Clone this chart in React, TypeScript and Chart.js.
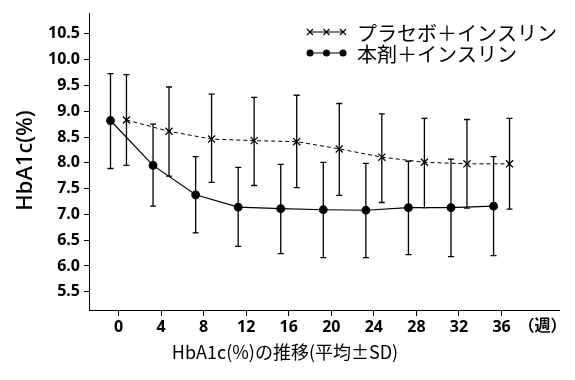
import React, { useEffect, useRef } from "react";
import { Chart, registerables } from "chart.js";

Chart.register(...registerables);

const weeks = [0, 4, 8, 12, 16, 20, 24, 28, 32, 36];
const yTickValues = [5.5, 6.0, 6.5, 7.0, 7.5, 8.0, 8.5, 9.0, 9.5, 10.0, 10.5];

const drugLabel = "本剤＋インスリン";
const drugMean = [8.82, 7.95, 7.38, 7.14, 7.11, 7.09, 7.08, 7.13, 7.13, 7.16];
const drugUpper = [9.73, 8.75, 8.12, 7.91, 7.97, 8.01, 7.99, 8.03, 8.07, 8.12];
const drugLower = [7.89, 7.16, 6.64, 6.38, 6.24, 6.16, 6.16, 6.22, 6.18, 6.2];

const placeboLabel = "プラセボ＋インスリン";
const placeboMean = [8.83, 8.61, 8.46, 8.43, 8.41, 8.27, 8.11, 8.01, 7.98, 7.98];
const placeboUpper = [9.71, 9.47, 9.33, 9.27, 9.31, 9.15, 8.95, 8.86, 8.84, 8.86];
const placeboLower = [7.95, 7.74, 7.62, 7.56, 7.52, 7.37, 7.23, 7.13, 7.12, 7.1];

const drugOffset = -0.75;
const placeboOffset = 0.75;

const yTitle = "HbA1c(%)";
const xTitle = "HbA1c(%)の推移(平均±SD)";
const xUnit = "（週）";

const FONT_JP = '"Noto Sans CJK JP", "Noto Sans", sans-serif';
const FONT_NUM = '"Noto Sans", "Liberation Sans", sans-serif';

const errorBarPlugin = {
  id: "errorBars",
  beforeDatasetsDraw(chart: any) {
    const ctx = chart.ctx;
    const xs = chart.scales.x;
    const ys = chart.scales.y;
    const sets = [
      { off: drugOffset, up: drugUpper, lo: drugLower },
      { off: placeboOffset, up: placeboUpper, lo: placeboLower },
    ];
    ctx.save();
    ctx.strokeStyle = "#000";
    ctx.lineWidth = 1.3;
    const cap = 3;
    sets.forEach((s) => {
      weeks.forEach((w, i) => {
        const x = xs.getPixelForValue(w + s.off);
        const yT = ys.getPixelForValue(s.up[i]);
        const yB = ys.getPixelForValue(s.lo[i]);
        ctx.beginPath();
        ctx.moveTo(x, yT);
        ctx.lineTo(x, yB);
        ctx.moveTo(x - cap, yT);
        ctx.lineTo(x + cap, yT);
        ctx.moveTo(x - cap, yB);
        ctx.lineTo(x + cap, yB);
        ctx.stroke();
      });
    });
    ctx.restore();
  },
};

const annotationsPlugin = {
  id: "annotations",
  afterDraw(chart: any) {
    const ctx = chart.ctx;
    const xs = chart.scales.x;
    ctx.save();
    ctx.fillStyle = "#000";
    ctx.strokeStyle = "#000";

    // Legend
    const rows = [
      { y: 32, label: placeboLabel, style: "crossRot" },
      { y: 53, label: drugLabel, style: "circle" },
    ];
    rows.forEach((r) => {
      ctx.lineWidth = 1.2;
      ctx.setLineDash([]);
      ctx.beginPath();
      ctx.moveTo(310, r.y);
      ctx.lineTo(343, r.y);
      ctx.stroke();
      [310, 326.5, 343].forEach((mx) => {
        if (r.style === "circle") {
          ctx.beginPath();
          ctx.arc(mx, r.y, 3.5, 0, Math.PI * 2);
          ctx.fill();
        } else {
          ctx.beginPath();
          ctx.moveTo(mx - 3, r.y - 3);
          ctx.lineTo(mx + 3, r.y + 3);
          ctx.moveTo(mx - 3, r.y + 3);
          ctx.lineTo(mx + 3, r.y - 3);
          ctx.stroke();
        }
      });
      ctx.font = `20px ${FONT_JP}`;
      ctx.textAlign = "left";
      ctx.textBaseline = "middle";
      ctx.fillText(r.label, 357, r.y + 1);
    });

    // Y title
    ctx.save();
    ctx.translate(26, 160.5);
    ctx.rotate(-Math.PI / 2);
    ctx.font = `500 22px ${FONT_NUM}`;
    ctx.textAlign = "center";
    ctx.textBaseline = "middle";
    ctx.fillText(yTitle, 0, 0);
    ctx.restore();

    // X title
    ctx.font = `18px ${FONT_JP}`;
    ctx.textAlign = "center";
    ctx.textBaseline = "middle";
    ctx.fillText(xTitle, 285, 352);

    // Unit
    ctx.font = `bold 16px ${FONT_JP}`;
    ctx.textAlign = "center";
    ctx.fillText(xUnit, xs.getPixelForValue(36) + 41, 325);

    ctx.restore();
  },
};

export default function App() {
  const canvasRef = useRef<HTMLCanvasElement | null>(null);

  useEffect(() => {
    if (!canvasRef.current) return;
    const chart = new Chart(canvasRef.current, {
      type: "line",
      data: {
        datasets: [
          {
            label: placeboLabel,
            data: weeks.map((w, i) => ({ x: w + placeboOffset, y: placeboMean[i] })),
            borderColor: "#000",
            backgroundColor: "#000",
            borderWidth: 1,
            borderDash: [4, 3],
            pointStyle: "crossRot",
            pointRadius: 5,
            pointBorderWidth: 1.3,
            pointBorderColor: "#000",
            fill: false,
          },
          {
            label: drugLabel,
            data: weeks.map((w, i) => ({ x: w + drugOffset, y: drugMean[i] })),
            borderColor: "#000",
            backgroundColor: "#000",
            borderWidth: 1.2,
            pointStyle: "circle",
            pointRadius: 3.8,
            pointBackgroundColor: "#000",
            pointBorderColor: "#000",
            fill: false,
          },
        ],
      },
      options: {
        animation: false,
        responsive: true,
        maintainAspectRatio: false,
        layout: { padding: { top: 13, right: 16, left: 0, bottom: 0 } },
        plugins: {
          legend: { display: false },
          tooltip: { enabled: false },
          title: { display: false },
        },
        scales: {
          x: {
            type: "linear",
            min: -2.77,
            max: 41.4,
            afterBuildTicks: (scale: any) => {
              scale.ticks = weeks.map((v) => ({ value: v }));
            },
            afterFit: (scale: any) => {
              scale.height = 70;
            },
            grid: {
              drawOnChartArea: false,
              drawTicks: true,
              tickLength: 6,
              color: "#000",
              lineWidth: 1,
            },
            border: { display: true, color: "#000", width: 1 },
            ticks: {
              color: "#000",
              padding: 2,
              maxRotation: 0,
              autoSkip: false,
              font: { family: FONT_NUM, size: 16, weight: "bold" },
              callback: (v: any) => String(v),
            },
          },
          y: {
            type: "linear",
            min: 5.146,
            max: 10.893,
            afterBuildTicks: (scale: any) => {
              scale.ticks = yTickValues.map((v) => ({ value: v }));
            },
            afterFit: (scale: any) => {
              scale.width = 89;
            },
            grid: {
              drawOnChartArea: false,
              drawTicks: true,
              tickLength: 5,
              color: "#000",
              lineWidth: 1,
            },
            border: { display: true, color: "#000", width: 1 },
            ticks: {
              color: "#000",
              padding: 4,
              autoSkip: false,
              font: { family: FONT_NUM, size: 16, weight: "bold" },
              callback: (v: any) => Number(v).toFixed(1),
            },
          },
        },
      },
      plugins: [errorBarPlugin, annotationsPlugin],
    } as any);
    return () => chart.destroy();
  }, []);

  return (
    <div style={{ position: "fixed", left: 0, top: 0, width: 575, height: 380, background: "#fff" }}>
      <canvas ref={canvasRef} />
    </div>
  );
}
